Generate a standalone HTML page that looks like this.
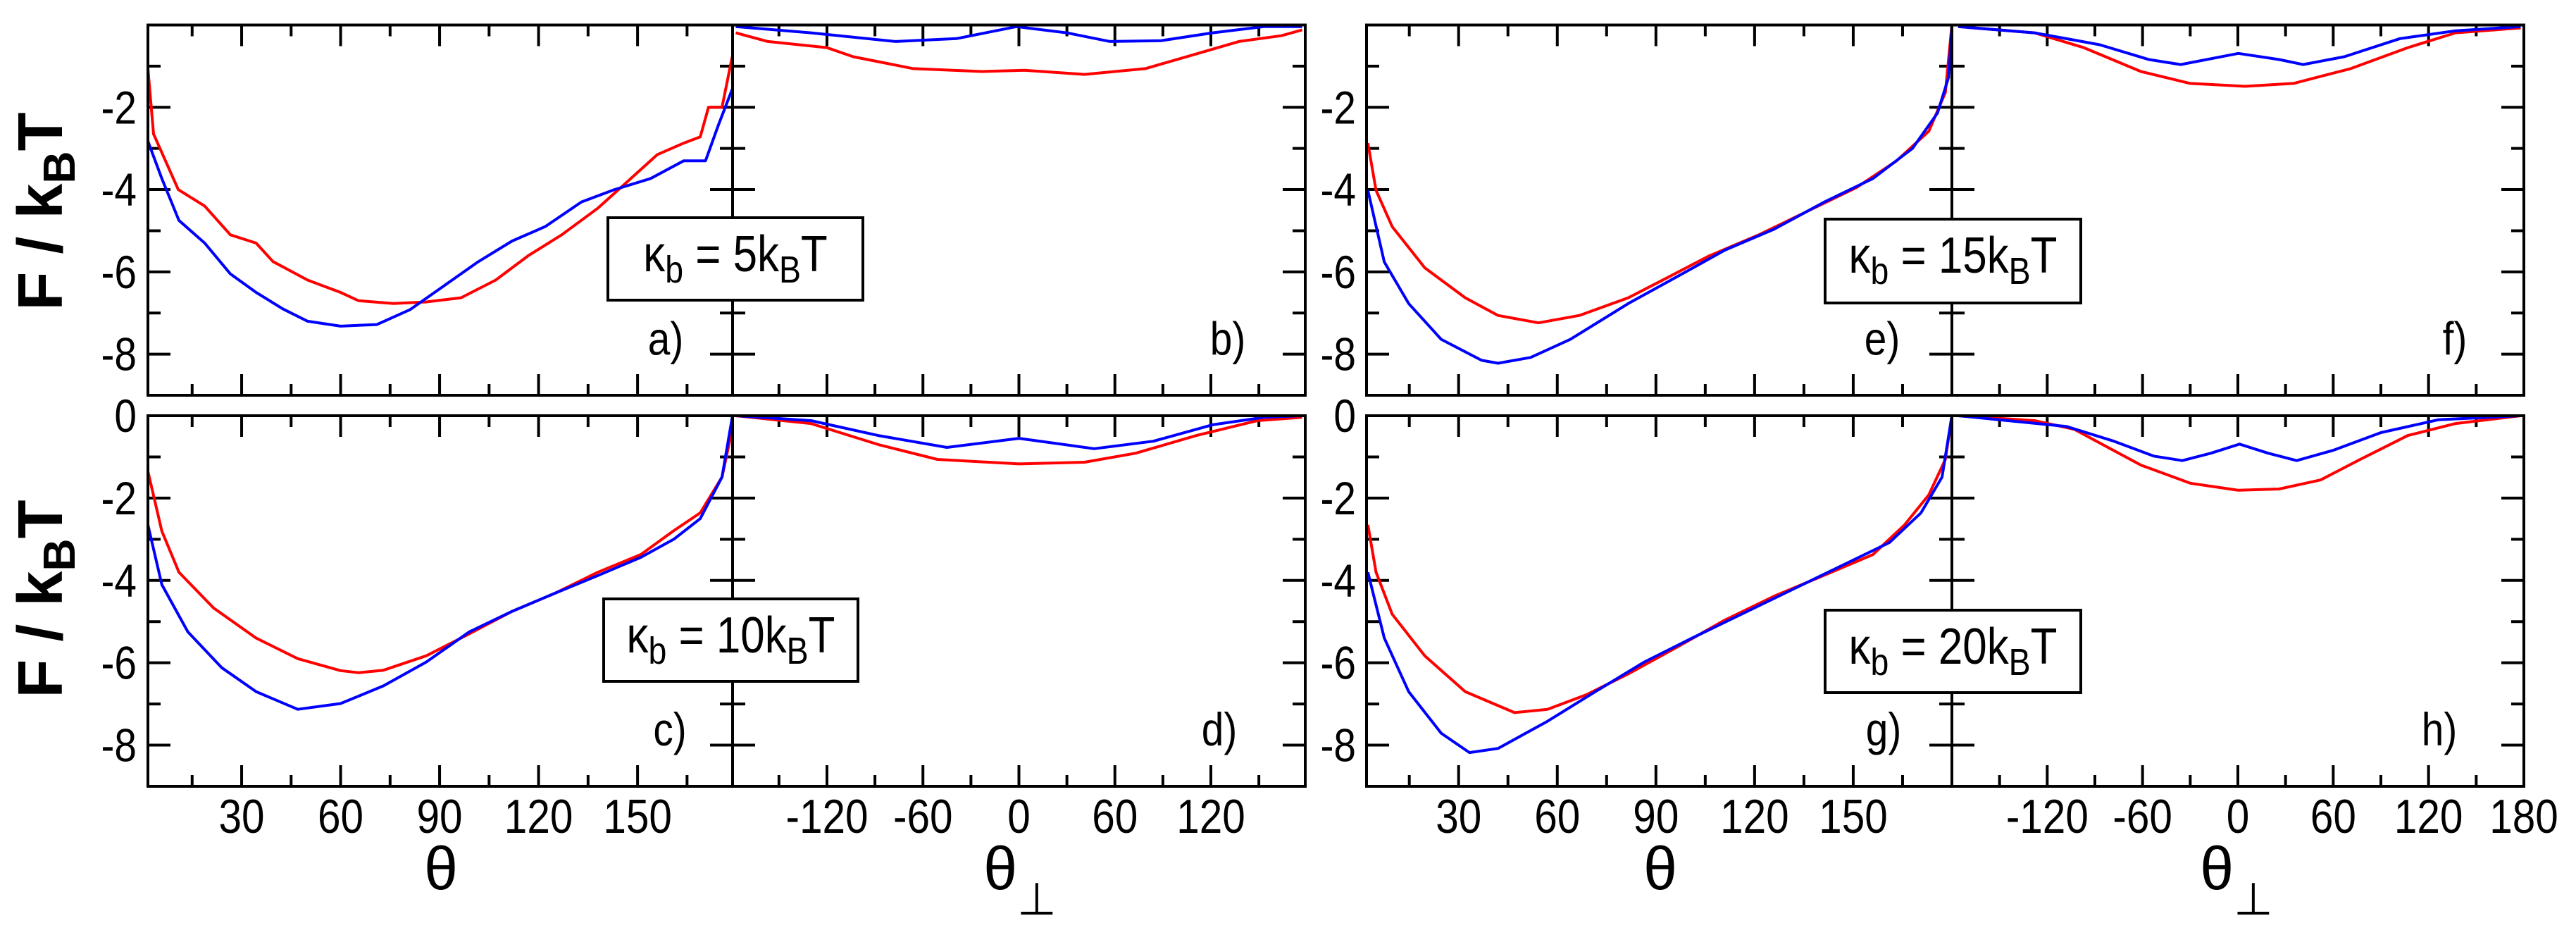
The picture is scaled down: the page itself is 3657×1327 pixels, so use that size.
<!DOCTYPE html>
<html><head><meta charset="utf-8"><style>
html,body{margin:0;padding:0;background:#fff;}
svg{display:block;font-family:"Liberation Sans",sans-serif;}
</style></head><body>
<svg id="chart" width="3657" height="1327" viewBox="0 0 3657 1327" xmlns="http://www.w3.org/2000/svg">
<rect x="0" y="0" width="3657" height="1327" fill="#fff"/>
</svg>
<script>
// ---- data (x in degrees, y in F/kBT) ----
const aRedX=[1.6,3.3,10.8,18.8,26.6,34.4,39.5,50,60,65.4,76,86,96.5,107,117,127,138,148,156,164,169,171.5,175.6,178.7];
const aRedY=[-1.06,-2.65,-4.0,-4.4,-5.1,-5.3,-5.75,-6.2,-6.5,-6.7,-6.77,-6.73,-6.63,-6.2,-5.6,-5.1,-4.45,-3.73,-3.15,-2.87,-2.72,-2.0,-2.0,-0.77];
const aBlueX=[1.5,5.8,11,18.8,26.6,34.4,42.5,50,60,71,81,91.3,101.6,112,122,133,143,154,164,170.6,174.5,178.7];
const aBlueY=[-2.8,-3.73,-4.75,-5.3,-6.05,-6.5,-6.9,-7.2,-7.32,-7.28,-6.92,-6.34,-5.76,-5.25,-4.9,-4.3,-4.0,-3.73,-3.3,-3.3,-2.43,-1.56];
const bRedX=[-177,-157,-120,-103.6,-66,-23,3.6,41,79,111,137.5,164,177];
const bRedY=[-0.19,-0.4,-0.55,-0.77,-1.06,-1.13,-1.1,-1.2,-1.06,-0.7,-0.4,-0.26,-0.12];
const bBlueX=[-177,-130,-77,-39,-1.6,30,57,89,121,153,177];
const bBlueY=[-0.04,-0.19,-0.4,-0.33,-0.04,-0.19,-0.4,-0.38,-0.19,-0.04,-0.04];
const cRedX=[1.6,5.8,11,21.5,34.4,47,60,65.4,73,86,96.5,112,125,138,151,161,169,175.6,178.7];
const cRedY=[-1.35,-2.8,-3.8,-4.67,-5.4,-5.9,-6.19,-6.24,-6.18,-5.83,-5.4,-4.75,-4.31,-3.8,-3.37,-2.79,-2.36,-1.49,-0.33];
const cBlueX=[1.6,5.8,13.7,24,34.4,47,60,73,86,99,112,125,138,151,161,169,175.6,178.7];
const cBlueY=[-2.65,-4.1,-5.25,-6.12,-6.7,-7.13,-6.99,-6.56,-5.98,-5.25,-4.75,-4.31,-3.88,-3.44,-3.0,-2.5,-1.49,-0.04];
const dRedX=[-177,-130,-88,-51,0,41,73,111,149,177];
const dRedY=[0,-0.19,-0.7,-1.06,-1.17,-1.13,-0.91,-0.48,-0.12,-0.04];
const dBlueX=[-177,-130,-88,-45,0,47,84,121,153,177];
const dBlueY=[0,-0.12,-0.48,-0.77,-0.55,-0.8,-0.62,-0.22,-0.04,0];
const eRedX=[2.4,4.9,9.8,19.7,32,42,54.3,66.7,81.6,94,106,121,136,151,163.2,173,178,180];
const eRedY=[-2.87,-4.02,-4.9,-5.9,-6.63,-7.06,-7.24,-7.06,-6.63,-6.12,-5.62,-5.11,-4.53,-3.95,-3.3,-2.58,-1.64,0];
const eBlueX=[2.4,7.4,14.8,24.7,37,42,51.9,64,81.6,96.4,111,126,141,156,168,175.6,179,180];
const eBlueY=[-4.02,-5.76,-6.77,-7.64,-8.15,-8.22,-8.08,-7.64,-6.77,-6.12,-5.47,-4.96,-4.31,-3.73,-3.0,-2.14,-1.27,0];
const fRedX=[-176,-128,-97,-61,-30,4.6,35,71,107,137,178];
const fRedY=[-0.04,-0.19,-0.55,-1.13,-1.42,-1.49,-1.42,-1.06,-0.55,-0.19,-0.07];
const fBlueX=[-176,-128,-87,-56,-36,0.3,26,41,67,102,137,178];
const fBlueY=[-0.04,-0.19,-0.48,-0.84,-0.96,-0.69,-0.84,-0.96,-0.77,-0.33,-0.14,-0.04];
const gRedX=[2.4,4.9,9.8,19.7,32,47,57,69,81.6,96.4,111,126,141,156,165.6,173,178,180];
const gRedY=[-2.65,-3.8,-4.82,-5.83,-6.7,-7.21,-7.13,-6.77,-6.27,-5.62,-4.96,-4.38,-3.88,-3.37,-2.65,-1.92,-1.06,0];
const gBlueX=[2.4,7.4,14.8,24.7,33.3,42,57,71.6,86.5,101,116,131,146,161,170.6,177,180];
const gBlueY=[-3.8,-5.4,-6.7,-7.71,-8.18,-8.08,-7.42,-6.7,-5.98,-5.4,-4.82,-4.24,-3.66,-3.08,-2.36,-1.49,0];
const hRedX=[-176,-128,-103,-61,-30,0.3,26,52,77,107,137,178];
const hRedY=[0,-0.12,-0.33,-1.2,-1.64,-1.81,-1.78,-1.56,-1.06,-0.48,-0.19,0];
const hBlueX=[-176,-108,-78,-53,-35,-17,1,19,37,60,90,126,178];
const hBlueY=[0,-0.26,-0.62,-0.98,-1.09,-0.91,-0.69,-0.91,-1.09,-0.84,-0.41,-0.1,0];
const thetaTicks=[30,60,90,120,150];
const perpTicksL=[-120,-60,0,60,120];
const perpTicksR=[-120,-60,0,60,120,180];
const yTicksTop=[-2,-4,-6,-8];
const yTicksBot=[0,-2,-4,-6,-8];
const kappas=["5","10","15","20"];

const NS="http://www.w3.org/2000/svg";
const svg=document.getElementById('chart');
function mk(tag,attrs,parent){const e=document.createElementNS(NS,tag);for(const k in attrs)e.setAttribute(k,attrs[k]);(parent||svg).appendChild(e);return e;}
const SX=0.86;
function ctext(x,y,size,anchor,parent){return mk('text',{x:0,y:0,'font-size':size,'text-anchor':anchor,transform:'translate('+x+','+y+') scale('+SX+',1)'},parent);}

const groups=[{xL:210,xM:1040,xR:1853,th:[1.6,178.8],pe:[-179,179],perpLabels:perpTicksL,lab:194,gx:626,gp:1448},
              {xL:1940,xM:2771,xR:3583,th:[2,180],pe:[-180,180],perpLabels:perpTicksR,lab:1925,gx:2357,gp:3175}];
const rows=[{yT:35.5,yB:561},{yT:590,yB:1116}];
const panels=[
 {g:0,r:0,k:'t',red:[aRedX,aRedY],blue:[aBlueX,aBlueY],name:'a)',lx:945},
 {g:0,r:0,k:'p',red:[bRedX,bRedY],blue:[bBlueX,bBlueY],name:'b)',lx:1743},
 {g:0,r:1,k:'t',red:[cRedX,cRedY],blue:[cBlueX,cBlueY],name:'c)',lx:951},
 {g:0,r:1,k:'p',red:[dRedX,dRedY],blue:[dBlueX,dBlueY],name:'d)',lx:1731},
 {g:1,r:0,k:'t',red:[eRedX,eRedY],blue:[eBlueX,eBlueY],name:'e)',lx:2672},
 {g:1,r:0,k:'p',red:[fRedX,fRedY],blue:[fBlueX,fBlueY],name:'f)',lx:3485},
 {g:1,r:1,k:'t',red:[gRedX,gRedY],blue:[gBlueX,gBlueY],name:'g)',lx:2674},
 {g:1,r:1,k:'p',red:[hRedX,hRedY],blue:[hBlueX,hBlueY],name:'h)',lx:3463}];

function sx(p,v){const G=groups[p.g];let x0,x1,d;if(p.k==='t'){x0=G.xL;x1=G.xM;d=G.th;}else{x0=G.xM;x1=G.xR;d=G.pe;}return x0+(v-d[0])/(d[1]-d[0])*(x1-x0);}
function sy(p,v){const R=rows[p.r];return R.yT+(0-v)/9*(R.yB-R.yT);}

const SW=4;
panels.forEach(p=>{
  const G=groups[p.g],R=rows[p.r];
  const pg=mk('g',{});
  
  
  const x0=p.k==='t'?G.xL:G.xM, x1=p.k==='t'?G.xM:G.xR;
  const d=p.k==='t'?G.th:G.pe;
  const step=p.k==='t'?15:30;
  for(let v=Math.ceil(d[0]/step)*step; v<=d[1]; v+=step){
    const x=sx(p,v); if(x<=x0+3||x>=x1-3) continue;
    const major=(v%(step*2)===0); const L=major?30:16;
    mk('line',{x1:x,y1:R.yB,x2:x,y2:R.yB-L,stroke:'#000','stroke-width':SW},pg);
    mk('line',{x1:x,y1:R.yT,x2:x,y2:R.yT+L,stroke:'#000','stroke-width':SW},pg);
  }
  for(let v=-8; v<=-1; v++){
    const y=sy(p,v); const major=(v%2===0); const L=major?32:18;
    if(p.k==='t'){
      mk('line',{x1:x0,y1:y,x2:x0+L,y2:y,stroke:'#000','stroke-width':SW},pg);
      mk('line',{x1:x1-L,y1:y,x2:x1+L,y2:y,stroke:'#000','stroke-width':SW},pg);
    } else {
      mk('line',{x1:x1,y1:y,x2:x1-L,y2:y,stroke:'#000','stroke-width':SW},pg);
    }
  }
  [['red','#ff0000'],['blue','#0000ff']].forEach(([nm,col])=>{
    const [xs,ys]=p[nm];
    const pts=xs.map((v,i)=>sx(p,v).toFixed(1)+','+sy(p,ys[i]).toFixed(1)).join(' ');
    const pl=mk('polyline',{points:pts,fill:'none',stroke:col,'stroke-width':SW,'stroke-linejoin':'round'},pg);
    
    
  });
  const fr=mk('rect',{x:x0,y:R.yT,width:x1-x0,height:R.yB-R.yT,fill:'none',stroke:'#000','stroke-width':SW},pg);
  
  
  const t=ctext(p.lx,R.yT+468,66,'middle',pg);
  t.textContent=p.name;
  
  
  if(p.r===1){
    const labs=p.k==='t'?thetaTicks:G.perpLabels;
    labs.forEach(v=>{
      const tl=ctext(sx(p,v),1182,68,'middle');
      tl.textContent=String(v);
      
      
    });
  }
});

groups.forEach((G,gi)=>{
  rows.forEach((R,ri)=>{
    const p={g:gi,r:ri};
    (ri===0?yTicksTop:yTicksBot).forEach(v=>{
      const tl=ctext(G.lab,sy(p,v)+23,66,'end');
      tl.textContent=String(v);
      
      
    });
    if(gi===0){
      const cy=ri===0?300:850;
      const yt=mk('text',{x:0,y:0,'font-size':90,'font-weight':'bold','text-anchor':'middle',transform:'translate(88,'+cy+') rotate(-90)'});
      yt.innerHTML='F / k<tspan font-size="64" dy="18">B</tspan><tspan dy="-18">T</tspan>';
      
      
    }
  });
  const xt=mk('text',{x:G.gx,y:1262,'font-size':86,'text-anchor':'middle'});
  xt.textContent='θ';
  
  
  const xp=mk('text',{x:G.gp,y:1262,'font-size':86,'text-anchor':'middle'});
  xp.innerHTML='θ<tspan font-size="64" dy="36">⊥</tspan>';
  
  
});

const boxes=[[863,309,362,117],[857,850,361,117],[2591,311,363,119],[2591,866,363,117]];
boxes.forEach((b,i)=>{
  const g=mk('g',{});
  
  
  mk('rect',{x:b[0],y:b[1],width:b[2],height:b[3],fill:'#fff',stroke:'#000','stroke-width':SW},g);
  const t=ctext(b[0]+b[2]/2,b[1]+76,72,'middle',g);
  t.innerHTML='κ<tspan font-size="54" dy="16">b</tspan><tspan dy="-16"> = '+kappas[i]+'k</tspan><tspan font-size="54" dy="16">B</tspan><tspan dy="-16">T</tspan>';
});
</script>
</body></html>
